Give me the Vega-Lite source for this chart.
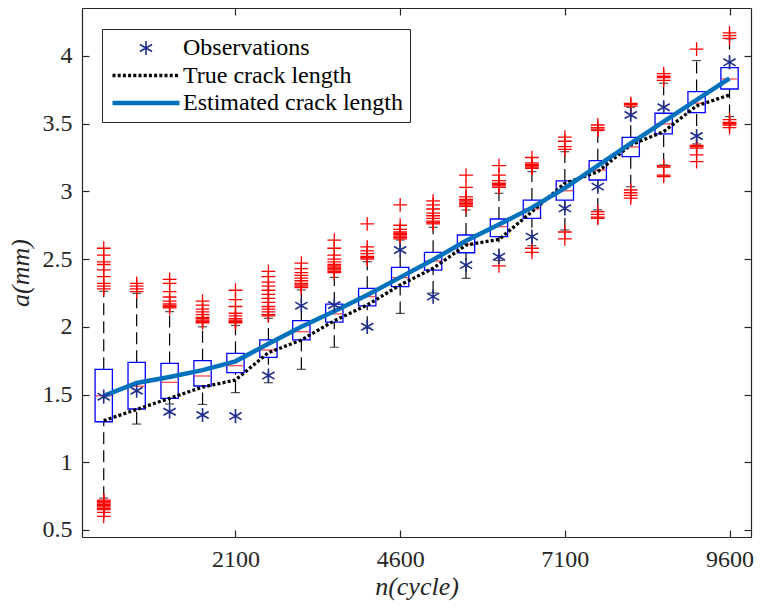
{
  "$schema": "https://vega.github.io/schema/vega-lite/v6.json",
  "autosize": "none",
  "width": 669,
  "height": 529,
  "padding": {"left": 82, "top": 8, "right": 10, "bottom": 71},
  "background": "white",
  "config": {
    "view": {"stroke": null},
    "font": "Times New Roman",
    "axis": {
      "grid": false,
      "labelFontSize": 24,
      "labelColor": "#262626",
      "domainColor": "#262626",
      "domainWidth": 1.2,
      "tickColor": "#262626",
      "tickWidth": 1.2,
      "tickSize": -7,
      "titleFontStyle": "italic",
      "titleFontWeight": "normal",
      "titleFontSize": 26,
      "titleColor": "#262626"
    },
    "legend": {
      "orient": "none",
      "legendX": 20,
      "legendY": 21,
      "labelFont": "Times New Roman",
      "labelFontSize": 24,
      "labelColor": "#000000",
      "labelLimit": 400,
      "labelOffset": 50,
      "symbolSize": 200,
      "padding": 7,
      "rowPadding": 3.5,
      "strokeColor": "#262626",
      "fillColor": "white",
      "title": null
    }
  },
  "datasets": {
    "boxes": [
      {"n": 100, "lower": 0.735, "q1": 1.299, "median": 1.491, "q3": 1.686, "upper": 2.262},
      {"n": 600, "lower": 1.282, "q1": 1.393, "median": 1.561, "q3": 1.738, "upper": 2.247},
      {"n": 1100, "lower": 1.43, "q1": 1.472, "median": 1.59, "q3": 1.73, "upper": 2.112},
      {"n": 1600, "lower": 1.427, "q1": 1.563, "median": 1.637, "q3": 1.75, "upper": 2.0},
      {"n": 2100, "lower": 1.514, "q1": 1.661, "median": 1.713, "q3": 1.804, "upper": 2.01},
      {"n": 2600, "lower": 1.587, "q1": 1.775, "median": 1.829, "q3": 1.903, "upper": 2.063},
      {"n": 3100, "lower": 1.686, "q1": 1.903, "median": 1.964, "q3": 2.045, "upper": 2.272},
      {"n": 3600, "lower": 1.849, "q1": 2.035, "median": 2.095, "q3": 2.168, "upper": 2.365},
      {"n": 4100, "lower": 1.99, "q1": 2.154, "median": 2.223, "q3": 2.284, "upper": 2.481},
      {"n": 4600, "lower": 2.099, "q1": 2.296, "median": 2.363, "q3": 2.439, "upper": 2.641},
      {"n": 5100, "lower": 2.25, "q1": 2.419, "median": 2.486, "q3": 2.55, "upper": 2.735},
      {"n": 5600, "lower": 2.358, "q1": 2.547, "median": 2.609, "q3": 2.678, "upper": 2.863},
      {"n": 6100, "lower": 2.49, "q1": 2.666, "median": 2.74, "q3": 2.796, "upper": 2.986},
      {"n": 6600, "lower": 2.599, "q1": 2.801, "median": 2.87, "q3": 2.936, "upper": 3.146},
      {"n": 7100, "lower": 2.715, "q1": 2.936, "median": 3.005, "q3": 3.077, "upper": 3.293},
      {"n": 7600, "lower": 2.863, "q1": 3.084, "median": 3.158, "q3": 3.227, "upper": 3.448},
      {"n": 8100, "lower": 3.035, "q1": 3.257, "median": 3.328, "q3": 3.399, "upper": 3.621},
      {"n": 8600, "lower": 3.195, "q1": 3.424, "median": 3.498, "q3": 3.577, "upper": 3.798},
      {"n": 9100, "lower": 3.35, "q1": 3.581, "median": 3.651, "q3": 3.737, "upper": 3.966},
      {"n": 9600, "lower": 3.552, "q1": 3.756, "median": 3.83, "q3": 3.914, "upper": 4.126}
    ],
    "outliers": [
      {"n": 100, "a": 2.58}, {"n": 100, "a": 2.53}, {"n": 100, "a": 2.48}, {"n": 100, "a": 2.46}, {"n": 100, "a": 2.42}, {"n": 100, "a": 2.37}, {"n": 100, "a": 2.32}, {"n": 100, "a": 2.3}, {"n": 100, "a": 2.28},
      {"n": 100, "a": 0.72}, {"n": 100, "a": 0.71}, {"n": 100, "a": 0.7}, {"n": 100, "a": 0.69}, {"n": 100, "a": 0.68}, {"n": 100, "a": 0.67}, {"n": 100, "a": 0.66}, {"n": 100, "a": 0.65}, {"n": 100, "a": 0.63}, {"n": 100, "a": 0.6},
      {"n": 600, "a": 2.32}, {"n": 600, "a": 2.3}, {"n": 600, "a": 2.28}, {"n": 600, "a": 2.26},
      {"n": 1100, "a": 2.35}, {"n": 1100, "a": 2.32}, {"n": 1100, "a": 2.26}, {"n": 1100, "a": 2.22}, {"n": 1100, "a": 2.19}, {"n": 1100, "a": 2.17}, {"n": 1100, "a": 2.16}, {"n": 1100, "a": 2.15}, {"n": 1100, "a": 2.14},
      {"n": 1600, "a": 2.19}, {"n": 1600, "a": 2.16}, {"n": 1600, "a": 2.13}, {"n": 1600, "a": 2.11}, {"n": 1600, "a": 2.09}, {"n": 1600, "a": 2.07}, {"n": 1600, "a": 2.06}, {"n": 1600, "a": 2.05}, {"n": 1600, "a": 2.04}, {"n": 1600, "a": 2.03},
      {"n": 2100, "a": 2.27}, {"n": 2100, "a": 2.2}, {"n": 2100, "a": 2.15}, {"n": 2100, "a": 2.1}, {"n": 2100, "a": 2.08}, {"n": 2100, "a": 2.06}, {"n": 2100, "a": 2.05}, {"n": 2100, "a": 2.04}, {"n": 2100, "a": 2.03},
      {"n": 2600, "a": 2.41}, {"n": 2600, "a": 2.37}, {"n": 2600, "a": 2.33}, {"n": 2600, "a": 2.3}, {"n": 2600, "a": 2.27}, {"n": 2600, "a": 2.24}, {"n": 2600, "a": 2.21}, {"n": 2600, "a": 2.18}, {"n": 2600, "a": 2.15}, {"n": 2600, "a": 2.13}, {"n": 2600, "a": 2.11}, {"n": 2600, "a": 2.09}, {"n": 2600, "a": 2.08},
      {"n": 3100, "a": 2.47}, {"n": 3100, "a": 2.43}, {"n": 3100, "a": 2.4}, {"n": 3100, "a": 2.38}, {"n": 3100, "a": 2.36}, {"n": 3100, "a": 2.34}, {"n": 3100, "a": 2.32}, {"n": 3100, "a": 2.31}, {"n": 3100, "a": 2.3}, {"n": 3100, "a": 2.29},
      {"n": 3600, "a": 2.64}, {"n": 3600, "a": 2.58}, {"n": 3600, "a": 2.53}, {"n": 3600, "a": 2.5}, {"n": 3600, "a": 2.48}, {"n": 3600, "a": 2.46}, {"n": 3600, "a": 2.45}, {"n": 3600, "a": 2.44}, {"n": 3600, "a": 2.43}, {"n": 3600, "a": 2.42}, {"n": 3600, "a": 2.41}, {"n": 3600, "a": 2.4},
      {"n": 4100, "a": 2.76}, {"n": 4100, "a": 2.59}, {"n": 4100, "a": 2.56}, {"n": 4100, "a": 2.54}, {"n": 4100, "a": 2.52}, {"n": 4100, "a": 2.51}, {"n": 4100, "a": 2.5},
      {"n": 4600, "a": 2.9}, {"n": 4600, "a": 2.75}, {"n": 4600, "a": 2.72}, {"n": 4600, "a": 2.7}, {"n": 4600, "a": 2.69}, {"n": 4600, "a": 2.68}, {"n": 4600, "a": 2.67}, {"n": 4600, "a": 2.66}, {"n": 4600, "a": 2.65},
      {"n": 5100, "a": 2.93}, {"n": 5100, "a": 2.9}, {"n": 5100, "a": 2.87}, {"n": 5100, "a": 2.84}, {"n": 5100, "a": 2.82}, {"n": 5100, "a": 2.8}, {"n": 5100, "a": 2.78}, {"n": 5100, "a": 2.77}, {"n": 5100, "a": 2.76},
      {"n": 5600, "a": 3.12}, {"n": 5600, "a": 3.03}, {"n": 5600, "a": 2.96}, {"n": 5600, "a": 2.94}, {"n": 5600, "a": 2.93}, {"n": 5600, "a": 2.92}, {"n": 5600, "a": 2.91}, {"n": 5600, "a": 2.9}, {"n": 5600, "a": 2.89},
      {"n": 6100, "a": 3.19}, {"n": 6100, "a": 3.12}, {"n": 6100, "a": 3.08}, {"n": 6100, "a": 3.06}, {"n": 6100, "a": 3.05}, {"n": 6100, "a": 3.04}, {"n": 6100, "a": 3.03}, {"n": 6100, "a": 2.45},
      {"n": 6600, "a": 3.25}, {"n": 6600, "a": 3.21}, {"n": 6600, "a": 3.2}, {"n": 6600, "a": 3.19}, {"n": 6600, "a": 3.18}, {"n": 6600, "a": 3.17}, {"n": 6600, "a": 2.58}, {"n": 6600, "a": 2.55},
      {"n": 7100, "a": 3.4}, {"n": 7100, "a": 3.37}, {"n": 7100, "a": 3.33}, {"n": 7100, "a": 3.31}, {"n": 7100, "a": 2.7}, {"n": 7100, "a": 2.65},
      {"n": 7600, "a": 3.49}, {"n": 7600, "a": 3.47}, {"n": 7600, "a": 3.46}, {"n": 7600, "a": 3.45}, {"n": 7600, "a": 2.85}, {"n": 7600, "a": 2.83}, {"n": 7600, "a": 2.81}, {"n": 7600, "a": 2.8},
      {"n": 8100, "a": 3.65}, {"n": 8100, "a": 3.64}, {"n": 8100, "a": 3.63}, {"n": 8100, "a": 3.01}, {"n": 8100, "a": 2.99}, {"n": 8100, "a": 2.97}, {"n": 8100, "a": 2.95},
      {"n": 8600, "a": 3.87}, {"n": 8600, "a": 3.85}, {"n": 8600, "a": 3.84}, {"n": 8600, "a": 3.82}, {"n": 8600, "a": 3.19}, {"n": 8600, "a": 3.18}, {"n": 8600, "a": 3.12}, {"n": 8600, "a": 3.11},
      {"n": 9100, "a": 4.05}, {"n": 9100, "a": 3.34}, {"n": 9100, "a": 3.33}, {"n": 9100, "a": 3.32}, {"n": 9100, "a": 3.27}, {"n": 9100, "a": 3.22},
      {"n": 9600, "a": 4.17}, {"n": 9600, "a": 4.15}, {"n": 9600, "a": 4.13}, {"n": 9600, "a": 3.53}, {"n": 9600, "a": 3.51}, {"n": 9600, "a": 3.5}, {"n": 9600, "a": 3.49}, {"n": 9600, "a": 3.47}
    ],
    "curves": [
      {"series": "Observations", "n": 100, "a": 1.484}, {"series": "Observations", "n": 600, "a": 1.528}, {"series": "Observations", "n": 1100, "a": 1.373}, {"series": "Observations", "n": 1600, "a": 1.349}, {"series": "Observations", "n": 2100, "a": 1.341},
      {"series": "Observations", "n": 2600, "a": 1.64}, {"series": "Observations", "n": 3100, "a": 2.156}, {"series": "Observations", "n": 3600, "a": 2.161}, {"series": "Observations", "n": 4100, "a": 2.0}, {"series": "Observations", "n": 4600, "a": 2.567},
      {"series": "Observations", "n": 5100, "a": 2.223}, {"series": "Observations", "n": 5600, "a": 2.456}, {"series": "Observations", "n": 6100, "a": 2.518}, {"series": "Observations", "n": 6600, "a": 2.666}, {"series": "Observations", "n": 7100, "a": 2.875},
      {"series": "Observations", "n": 7600, "a": 3.035}, {"series": "Observations", "n": 8100, "a": 3.564}, {"series": "Observations", "n": 8600, "a": 3.621}, {"series": "Observations", "n": 9100, "a": 3.409}, {"series": "Observations", "n": 9600, "a": 3.953},
      {"series": "True crack length", "n": 100, "a": 1.307}, {"series": "True crack length", "n": 600, "a": 1.39}, {"series": "True crack length", "n": 1100, "a": 1.472}, {"series": "True crack length", "n": 1600, "a": 1.555}, {"series": "True crack length", "n": 2100, "a": 1.607},
      {"series": "True crack length", "n": 2600, "a": 1.809}, {"series": "True crack length", "n": 3100, "a": 1.903}, {"series": "True crack length", "n": 3600, "a": 2.045}, {"series": "True crack length", "n": 4100, "a": 2.161}, {"series": "True crack length", "n": 4600, "a": 2.309},
      {"series": "True crack length", "n": 5100, "a": 2.432}, {"series": "True crack length", "n": 5600, "a": 2.604}, {"series": "True crack length", "n": 6100, "a": 2.645}, {"series": "True crack length", "n": 6600, "a": 2.85}, {"series": "True crack length", "n": 7100, "a": 3.06},
      {"series": "True crack length", "n": 7600, "a": 3.145}, {"series": "True crack length", "n": 8100, "a": 3.343}, {"series": "True crack length", "n": 8600, "a": 3.441}, {"series": "True crack length", "n": 9100, "a": 3.631}, {"series": "True crack length", "n": 9600, "a": 3.712},
      {"series": "Estimated crack length", "n": 100, "a": 1.49}, {"series": "Estimated crack length", "n": 600, "a": 1.585}, {"series": "Estimated crack length", "n": 1100, "a": 1.63}, {"series": "Estimated crack length", "n": 1600, "a": 1.68}, {"series": "Estimated crack length", "n": 2100, "a": 1.745},
      {"series": "Estimated crack length", "n": 2600, "a": 1.875}, {"series": "Estimated crack length", "n": 3100, "a": 2.0}, {"series": "Estimated crack length", "n": 3600, "a": 2.115}, {"series": "Estimated crack length", "n": 4100, "a": 2.235}, {"series": "Estimated crack length", "n": 4600, "a": 2.365},
      {"series": "Estimated crack length", "n": 5100, "a": 2.495}, {"series": "Estimated crack length", "n": 5600, "a": 2.635}, {"series": "Estimated crack length", "n": 6100, "a": 2.755}, {"series": "Estimated crack length", "n": 6600, "a": 2.88}, {"series": "Estimated crack length", "n": 7100, "a": 3.025},
      {"series": "Estimated crack length", "n": 7600, "a": 3.19}, {"series": "Estimated crack length", "n": 8100, "a": 3.355}, {"series": "Estimated crack length", "n": 8600, "a": 3.515}, {"series": "Estimated crack length", "n": 9100, "a": 3.675}, {"series": "Estimated crack length", "n": 9600, "a": 3.835}
    ]
  },
  "resolve": {"axis": {"x": "independent", "y": "independent"}},
  "layer": [
    {
      "data": {"name": "boxes"},
      "mark": {"type": "rule", "color": "black", "strokeWidth": 1.2, "strokeDash": [12, 6]},
      "encoding": {
        "x": {"field": "n", "type": "quantitative",
              "scale": {"domain": [-154, 9850], "nice": false, "zero": false},
              "axis": {"orient": "bottom", "values": [2100, 4600, 7100, 9600], "format": "d",
                       "labelFont": "Times New Roman", "labelPadding": 17,
                       "title": "n(cycle)", "titleFont": "Times New Roman", "titlePadding": 2}},
        "y": {"field": "q3", "type": "quantitative",
              "scale": {"domain": [0.448, 4.354], "nice": false, "zero": false},
              "axis": {"orient": "left", "values": [0.5, 1, 1.5, 2, 2.5, 3, 3.5, 4], "format": "~g",
                       "labelFont": "Times New Roman", "labelPadding": 17,
                       "title": "a(mm)", "titleFont": "Times New Roman", "titlePadding": 9}},
        "y2": {"field": "upper"}
      }
    },
    {
      "data": {"name": "boxes"},
      "mark": {"type": "rule", "color": "black", "strokeWidth": 1.2, "strokeDash": [12, 6]},
      "encoding": {
        "x": {"field": "n", "type": "quantitative", "axis": null},
        "y": {"field": "lower", "type": "quantitative", "axis": null},
        "y2": {"field": "q1"}
      }
    },
    {
      "data": {"name": "boxes"},
      "mark": {"type": "tick", "orient": "horizontal", "color": "black", "size": 9, "thickness": 1.2},
      "encoding": {
        "x": {"field": "n", "type": "quantitative", "axis": null},
        "y": {"field": "upper", "type": "quantitative", "axis": null}
      }
    },
    {
      "data": {"name": "boxes"},
      "mark": {"type": "tick", "orient": "horizontal", "color": "black", "size": 9, "thickness": 1.2},
      "encoding": {
        "x": {"field": "n", "type": "quantitative", "axis": null},
        "y": {"field": "lower", "type": "quantitative", "axis": null}
      }
    },
    {
      "data": {"name": "boxes"},
      "mark": {"type": "bar", "width": 17.3, "fill": "transparent", "stroke": "#0000FF", "strokeWidth": 1.3},
      "encoding": {
        "x": {"field": "n", "type": "quantitative", "axis": null},
        "y": {"field": "q1", "type": "quantitative", "axis": null},
        "y2": {"field": "q3"}
      }
    },
    {
      "data": {"name": "boxes"},
      "mark": {"type": "tick", "orient": "horizontal", "color": "#FF0000", "size": 16, "thickness": 1.3},
      "encoding": {
        "x": {"field": "n", "type": "quantitative", "axis": null},
        "y": {"field": "median", "type": "quantitative", "axis": null}
      }
    },
    {
      "data": {"name": "outliers"},
      "mark": {"type": "point", "shape": "M-1,0L1,0M0,-1L0,1", "filled": false, "stroke": "#FF0000", "strokeWidth": 1.3, "size": 190, "opacity": 1},
      "encoding": {
        "x": {"field": "n", "type": "quantitative",
              "axis": {"orient": "top", "values": [2100, 4600, 7100, 9600], "labels": false, "title": null}},
        "y": {"field": "a", "type": "quantitative",
              "axis": {"orient": "right", "values": [0.5, 1, 1.5, 2, 2.5, 3, 3.5, 4], "labels": false, "title": null}}
      }
    },
    {
      "data": {"name": "curves"},
      "transform": [{"filter": "datum.series === 'True crack length'"}],
      "mark": {"type": "line", "strokeCap": "butt", "strokeWidth": 3.3, "strokeDash": [3, 2.2]},
      "encoding": {
        "x": {"field": "n", "type": "quantitative", "axis": null},
        "y": {"field": "a", "type": "quantitative", "axis": null},
        "color": {"field": "series", "type": "nominal",
                  "scale": {"domain": ["Observations", "True crack length", "Estimated crack length"], "range": ["#1F2D8C", "#000000", "#0072BD"]},
                  "legend": {
                    "encode": {
                      "symbols": {
                        "update": {
                          "shape": {"signal": "datum.value === 'Observations' ? 'M0,-1L0,1M-0.866,-0.5L0.866,0.5M-0.866,0.5L0.866,-0.5' : 'stroke'"},
                          "size": {"signal": "datum.value === 'Observations' ? 200 : 4489"},
                          "strokeWidth": {"signal": "datum.value === 'Observations' ? 1.6 : datum.value === 'True crack length' ? 3.3 : 4.5"},
                          "strokeDash": {"signal": "datum.value === 'True crack length' ? [3, 2.2] : [1, 0]"},
                          "x": {"value": 37},
                          "opacity": {"value": 1}
                        }
                      }
                    }
                  }}
      }
    },
    {
      "data": {"name": "curves"},
      "transform": [{"filter": "datum.series === 'Estimated crack length'"}],
      "mark": {"type": "line", "strokeWidth": 4.5},
      "encoding": {
        "x": {"field": "n", "type": "quantitative", "axis": null},
        "y": {"field": "a", "type": "quantitative", "axis": null},
        "color": {"field": "series", "type": "nominal"}
      }
    },
    {
      "data": {"name": "curves"},
      "transform": [{"filter": "datum.series === 'Observations'"}],
      "mark": {"type": "point", "filled": false, "opacity": 1, "strokeWidth": 1.6, "size": 200,
               "shape": "M0,-1L0,1M-0.866,-0.5L0.866,0.5M-0.866,0.5L0.866,-0.5"},
      "encoding": {
        "x": {"field": "n", "type": "quantitative", "axis": null},
        "y": {"field": "a", "type": "quantitative", "axis": null},
        "color": {"field": "series", "type": "nominal"}
      }
    }
  ]
}
